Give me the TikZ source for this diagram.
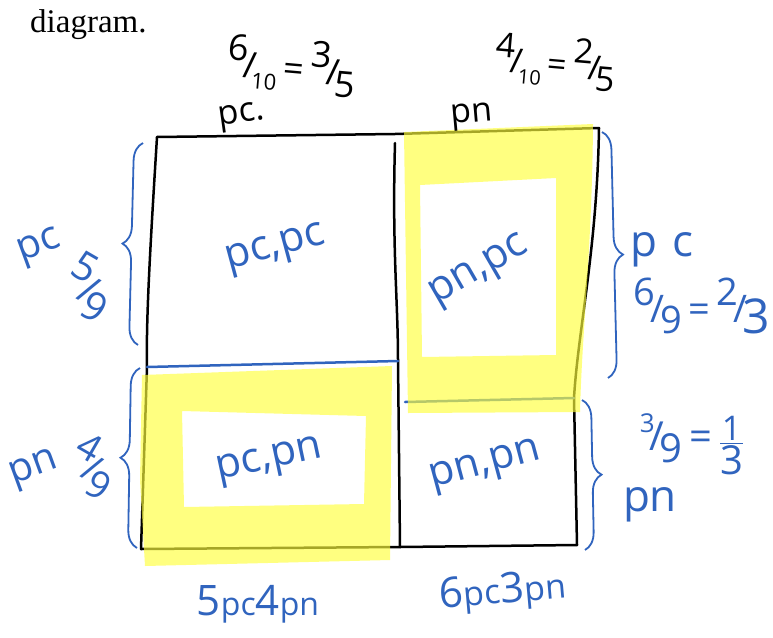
\documentclass[tikz,border=0pt]{standalone}
\usepackage{fontspec}
\usepackage{amsmath}
\setmainfont{Liberation Serif}
\newfontfamily\handfont{Open Sans}
\usetikzlibrary{decorations.pathreplacing}
\definecolor{inkblue}{RGB}{48,100,190}
\definecolor{hiyellow}{RGB}{255,255,60}
\newcommand\slfrac[2]{\raisebox{0.45em}{#1}\kern-0.12em/\kern-0.12em\raisebox{-0.3em}{#2}}
\newcommand\inksize[1]{\fontsize{#1}{#1}\selectfont}

\begin{document}
\begin{tikzpicture}[x=1pt,y=-1pt,
  gridline/.style={line width=2.5, black, line cap=round, line join=round},
  divline/.style={line width=2.5, inkblue, line cap=round},
  bluebrace/.style={decorate, decoration={brace, amplitude=18pt}, inkblue, line width=1.8},
  hand/.style={text=inkblue, inner sep=0pt, font=\handfont\inksize{42}},
  blackhand/.style={hand, text=black},
  highlight/.style={fill=hiyellow, fill opacity=0.65, even odd rule, draw=none}]
\useasboundingbox (0,0) rectangle (773,637);
\fill[white] (0,0) rectangle (773,637);

% page text
\node[anchor=base west, font=\inksize{33}, inner sep=0pt] (caption) at (30,32) {diagram.};

% corners of the grid
\coordinate (tl) at (157,137);
\coordinate (tm) at (395,134);
\coordinate (tr) at (599,128);
\coordinate (ml) at (147,367);
\coordinate (mm) at (398,361);
\coordinate (mr1) at (405,402);
\coordinate (mr2) at (574,398);
\coordinate (bl) at (141,549);
\coordinate (bm) at (400,547);
\coordinate (br) at (577,545);

% grid lines
\draw[gridline] (tl) -- (tm) -- (tr);
\draw[gridline] (tl) .. controls (150,250) and (146,320) .. (ml) -- (bl);
\draw[gridline] (bl) -- (bm) -- (br);
\draw[gridline] (tr) .. controls (597,250) and (578,330) .. (mr2) -- (br);
\draw[gridline] (395,143) .. controls (392,250) and (398,300) .. (mm) -- (bm);
\draw[divline] (ml) -- (mm);
\draw[divline] (mr1) -- (mr2);

% highlighter frames
\path[highlight] (405,132) -- (593,124) .. controls (592,250) and (582,330) .. (580,412)
  -- (408,413) -- (404,132)
  (420,185) -- (556,178) -- (556,355) -- (422,357) -- cycle;
\path[highlight] (142,375) -- (392,366) -- (390,560) -- (145,566) -- (140,480) -- cycle
  (182,411) -- (366,416) -- (364,504) -- (184,507) -- cycle;

% cell labels
\node[hand, rotate=15] (cpcpc) at (276,250) {pc,pc};
\node[hand, rotate=30] (cpnpc) at (480,272) {pn,pc};
\node[hand, rotate=12] (cpcpn) at (270,462) {pc,pn};
\node[hand, rotate=15] (cpnpn) at (486,467) {pn,pn};

% top labels
\node[blackhand, font=\handfont\inksize{34}, rotate=8] (toppc) at (242,117) {pc.};
\node[blackhand, font=\handfont\inksize{36}, rotate=-5] (topfracl) at (292,66) {\slfrac{6}{\inksize{22}10}\,=\,\slfrac{3}{5}};
\node[blackhand, font=\handfont\inksize{34}, rotate=5] (toppn) at (472,117) {pn};
\node[blackhand, font=\handfont\inksize{34}, rotate=-5] (topfracr) at (556,62) {\slfrac{4}{\inksize{20}10}\,=\,\slfrac{2}{5}};

% left braces and labels
\draw[bluebrace] (138,345) -- (143,143);
\draw[bluebrace] (137,548) -- (140,368);
\node[hand, font=\handfont\inksize{40}, rotate=20] (leftpc) at (40,248) {pc};
\node[hand, font=\handfont\inksize{40}, rotate=-30] (leftfracc) at (90,287) {\slfrac{5}{9}};
\node[hand, font=\handfont\inksize{40}, rotate=20] (leftpn) at (34,470) {pn};
\node[hand, font=\handfont\inksize{38}, rotate=-30] (leftfracn) at (94,466) {\slfrac{4}{9}};

% right braces and labels
\draw[bluebrace] (602,132) -- (608,378);
\draw[bluebrace] (582,400) -- (585,550);
\node[hand, font=\handfont\inksize{44}] (rightpc) at (662,250) {p\,\,c};
\node[hand, font=\handfont\inksize{38}] (rightfracc) at (702,306) {\slfrac{6}{9}\,=\,\slfrac{2}{\inksize{48}3}};
\node[hand, font=\handfont\inksize{40}] (rightfracn) at (692,444) {\slfrac{\inksize{26}3}{9}\,=\,$\frac{\text{\handfont\inksize{34}1}}{\text{\handfont\inksize{40}3}}$};
\node[hand, font=\handfont\inksize{44}] (rightpn) at (650,505) {pn};

% bottom labels
\node[hand, font=\handfont\inksize{42}] (botleft) at (258,604) {5{\inksize{32}pc}4{\inksize{32}pn}};
\node[hand, font=\handfont\inksize{42}, rotate=5] (botright) at (503,592) {6{\inksize{34}pc}3{\inksize{34}pn}};
\end{tikzpicture}
\end{document}
